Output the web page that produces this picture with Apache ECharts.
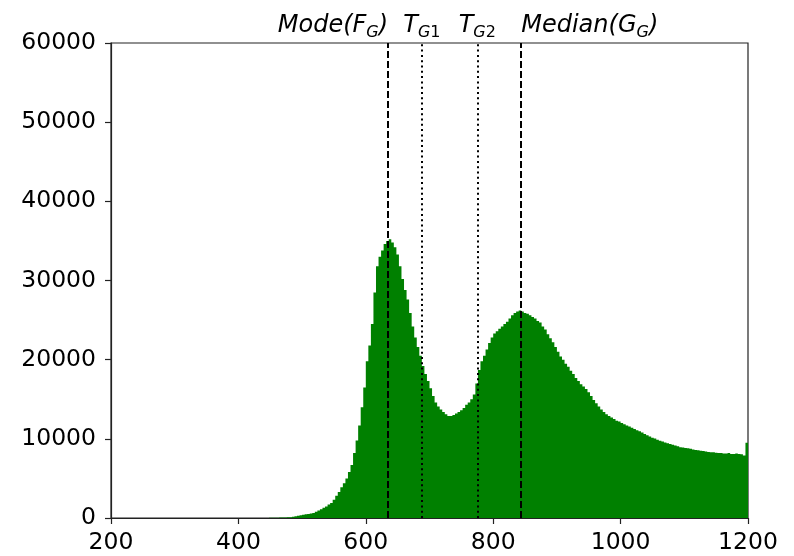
<!DOCTYPE html>
<html>
<head>
<meta charset="utf-8">
<script src="https://cdn.jsdelivr.net/npm/echarts@6/dist/echarts.min.js"></script>
<style>
  html, body { margin: 0; padding: 0; background: #fff; }
  #chart { width: 794px; height: 556px; }
</style>
</head>
<body>
<div id="chart"></div>
<script>
// Histogram: bins of width 4 from 200 to 1200
const binStart = 200;
const binWidth = 4;
const counts = [
  0,0,0,0,0,0,0,0,0,0,
  0,0,0,0,0,0,0,0,0,0,
  0,0,0,0,0,0,0,0,0,0,
  0,0,0,0,0,0,0,0,0,0,
  0,0,0,0,0,0,0,0,0,0,
  0,0,0,0,0,0,0,0,0,0,
  10,15,20,25,30,40,50,60,70,85,
  100,150,220,280,350,400,460,520,580,640,
  800,950,1100,1300,1450,1700,1900,2300,2800,3300,
  3900,4400,5000,5800,6700,8200,9800,11700,14000,16500,
  19800,21800,24500,28500,31800,33000,33800,34600,35000,35200,
  34800,34200,33300,31800,30200,28800,27600,25900,24200,22800,
  21600,20500,19200,18200,17300,16400,15400,14600,14100,13700,
  13400,13100,12900,12900,13000,13200,13400,13600,13900,14300,
  14600,15000,15600,17000,18700,19800,20500,21300,22100,22800,
  23300,23600,23900,24200,24500,24800,25200,25600,25900,26100,
  26200,26100,25900,25800,25600,25400,25200,24900,24700,24200,
  23800,23200,22700,22200,21600,21000,20400,20000,19500,19100,
  18600,18200,17700,17300,16900,16600,16300,15900,15400,14900,
  14500,14100,13700,13400,13100,12900,12700,12500,12300,12200,
  12000,11850,11700,11550,11400,11250,11100,10950,10800,10600,
  10450,10300,10150,10050,9900,9750,9650,9550,9450,9350,
  9250,9150,9050,8950,8900,8850,8800,8750,8650,8600,
  8550,8500,8450,8400,8350,8300,8300,8250,8200,8200,
  8150,8150,8200,8100,8100,8150,8100,8050,7900,9500
];
// Threshold / reference lines
const modeFG = 635;
const tG1 = 688;
const tG2 = 775;
const medianGG = 844;
const xTicks = [200, 400, 600, 800, 1000, 1200];
const yTicks = [0, 10000, 20000, 30000, 40000, 50000, 60000];

const histData = counts.map((c, i) => [binStart + i * binWidth, binStart + (i + 1) * binWidth, c]);

const FONT = 'DejaVu Sans';
const richStyles = {
  it: { fontFamily: FONT, fontStyle: 'italic', fontSize: 24, color: '#000', lineHeight: 30, verticalAlign: 'middle' },
  sub: { fontFamily: FONT, fontStyle: 'italic', fontSize: 16, color: '#000', verticalAlign: 'bottom', lineHeight: 16 },
  subn: { fontFamily: FONT, fontStyle: 'normal', fontSize: 16, color: '#000', verticalAlign: 'bottom', lineHeight: 16 }
};

function vline(x, type, text, align) {
  return [
    {
      coord: [x, yTicks[0]],
      lineStyle: { color: '#000', width: 2, type: type },
      label: { show: true, position: 'end', formatter: text, align: align, distance: 2, rich: richStyles }
    },
    { coord: [x, yTicks[yTicks.length - 1]] }
  ];
}

const chart = echarts.init(document.getElementById('chart'), null, { renderer: 'canvas' });
chart.setOption({
  animation: false,
  backgroundColor: '#fff',
  grid: { left: 111, right: 46, top: 43, bottom: 38, show: true, borderColor: '#222', borderWidth: 1.2, backgroundColor: 'transparent' },
  xAxis: {
    type: 'value', min: xTicks[0], max: xTicks[xTicks.length - 1], interval: 200,
    axisLine: { show: true, onZero: false, lineStyle: { color: '#222', width: 1.2 } },
    axisTick: { show: true, length: 6, lineStyle: { color: '#222', width: 1.2 } },
    axisLabel: { fontFamily: FONT, fontSize: 23.5, color: '#000', margin: 13, formatter: v => String(v) },
    splitLine: { show: false }
  },
  yAxis: {
    type: 'value', min: yTicks[0], max: yTicks[yTicks.length - 1], interval: 10000,
    axisLine: { show: true, lineStyle: { color: '#222', width: 1.2 } },
    axisTick: { show: true, length: 6, lineStyle: { color: '#222', width: 1.2 } },
    axisLabel: { fontFamily: FONT, fontSize: 23.5, color: '#000', margin: 15, formatter: v => String(v) },
    splitLine: { show: false }
  },
  series: [{
    type: 'custom',
    data: histData,
    encode: { x: [0, 1], y: 2 },
    clip: true,
    renderItem: function (params, api) {
      // Draw the whole histogram as one step outline polygon (no seams between bins)
      if (params.dataIndex !== 0) return null;
      const pts = [];
      const base0 = api.coord([histData[0][0], 0]);
      pts.push(base0);
      for (let i = 0; i < histData.length; i++) {
        const d = histData[i];
        pts.push(api.coord([d[0], d[2]]));
        pts.push(api.coord([d[1], d[2]]));
      }
      pts.push(api.coord([histData[histData.length - 1][1], 0]));
      return {
        type: 'polygon',
        shape: { points: pts },
        style: { fill: '#008000' }
      };
    },
    markLine: {
      silent: true,
      symbol: 'none',
      animation: false,
      data: [
        vline(modeFG, [7, 3], '{it|Mode(F}{sub|G}{it|)}', 'right'),
        vline(tG1, [2, 3.3], '{it|T}{sub|G}{subn|1}', 'center'),
        vline(tG2, [2, 3.3], '{it|T}{sub|G}{subn|2}', 'center'),
        vline(medianGG, [7, 3], '{it|Median(G}{sub|G}{it|)}', 'left')
      ]
    }
  }]
});
</script>
</body>
</html>
